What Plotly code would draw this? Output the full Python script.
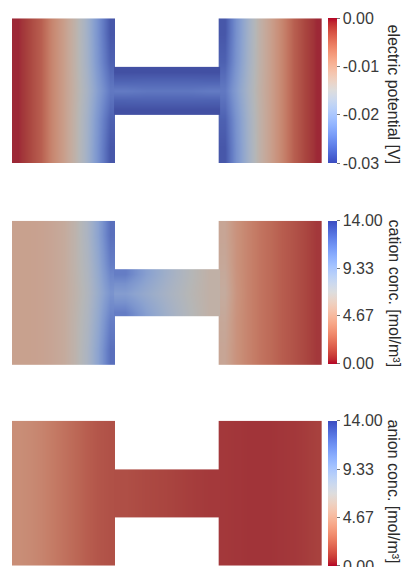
import numpy as np
import plotly.graph_objects as go

# ---------------- data ----------------
# Field samples: rows go bottom -> top, columns left -> right.
# Left block / right block: 5 rows x 9 columns; bridge: 5 rows x 5 columns.

potential_left = [
    [-0.0005, -0.002, -0.004, -0.0075, -0.0105, -0.0137, -0.0180, -0.0232, -0.0292],
    [-0.0005, -0.002, -0.004, -0.0075, -0.0105, -0.0137, -0.0178, -0.0228, -0.0282],
    [-0.0005, -0.002, -0.004, -0.0075, -0.0105, -0.0135, -0.0172, -0.0215, -0.0258],
    [-0.0005, -0.002, -0.004, -0.0075, -0.0105, -0.0137, -0.0178, -0.0228, -0.0282],
    [-0.0005, -0.002, -0.004, -0.0075, -0.0105, -0.0137, -0.0180, -0.0232, -0.0292],
]
potential_bridge = [
    [-0.0298, -0.0298, -0.0298, -0.0298, -0.0298],
    [-0.0280, -0.0279, -0.0279, -0.0279, -0.0280],
    [-0.0255, -0.0260, -0.0260, -0.0260, -0.0255],
    [-0.0280, -0.0279, -0.0279, -0.0279, -0.0280],
    [-0.0298, -0.0298, -0.0298, -0.0298, -0.0298],
]
potential_right = [
    [-0.0292, -0.0232, -0.0180, -0.0137, -0.0105, -0.0075, -0.004, -0.002, -0.0005],
    [-0.0282, -0.0228, -0.0178, -0.0137, -0.0105, -0.0075, -0.004, -0.002, -0.0005],
    [-0.0258, -0.0215, -0.0172, -0.0135, -0.0105, -0.0075, -0.004, -0.002, -0.0005],
    [-0.0282, -0.0228, -0.0178, -0.0137, -0.0105, -0.0075, -0.004, -0.002, -0.0005],
    [-0.0292, -0.0232, -0.0180, -0.0137, -0.0105, -0.0075, -0.004, -0.002, -0.0005],
]

cation_left = [
    [5.0, 5.0, 5.1, 5.3, 5.7, 6.5, 7.8, 9.7, 12.5],
    [5.0, 5.0, 5.1, 5.3, 5.7, 6.5, 7.6, 9.3, 11.8],
    [5.0, 5.0, 5.1, 5.3, 5.7, 6.4, 7.4, 8.9, 10.6],
    [5.0, 5.0, 5.1, 5.3, 5.7, 6.5, 7.6, 9.3, 11.8],
    [5.0, 5.0, 5.1, 5.3, 5.7, 6.5, 7.8, 9.7, 12.5],
]
cation_bridge = [
    [11.8, 9.8, 8.4, 7.2, 6.2],
    [10.8, 9.4, 8.2, 7.1, 6.2],
    [10.0, 9.0, 8.0, 7.0, 6.2],
    [10.8, 9.4, 8.2, 7.1, 6.2],
    [11.8, 9.8, 8.4, 7.2, 6.2],
]
cation_right = [
    [5.3, 4.2, 3.4, 2.8, 2.3, 1.8, 1.4, 1.0, 0.55],
    [5.5, 4.2, 3.4, 2.8, 2.3, 1.8, 1.4, 1.0, 0.55],
    [5.8, 4.3, 3.4, 2.8, 2.3, 1.8, 1.4, 1.0, 0.55],
    [5.5, 4.2, 3.4, 2.8, 2.3, 1.8, 1.4, 1.0, 0.55],
    [5.3, 4.2, 3.4, 2.8, 2.3, 1.8, 1.4, 1.0, 0.55],
]

anion_left = [
    [3.9, 3.7, 3.4, 3.0, 2.6, 2.2, 1.8, 1.5, 1.3],
    [3.9, 3.7, 3.4, 3.0, 2.6, 2.2, 1.8, 1.5, 1.3],
    [3.9, 3.7, 3.4, 3.0, 2.6, 2.2, 1.8, 1.5, 1.3],
    [3.9, 3.7, 3.4, 3.0, 2.6, 2.2, 1.8, 1.5, 1.3],
    [3.9, 3.7, 3.4, 3.0, 2.6, 2.2, 1.8, 1.5, 1.3],
]
anion_bridge = [
    [1.25, 1.05, 0.9, 0.72, 0.58],
    [1.25, 1.05, 0.9, 0.72, 0.58],
    [1.25, 1.05, 0.9, 0.72, 0.58],
    [1.25, 1.05, 0.9, 0.72, 0.58],
    [1.25, 1.05, 0.9, 0.72, 0.58],
]
anion_right = [
    [0.55, 0.5, 0.45, 0.45, 0.45, 0.5, 0.55, 0.65, 0.8],
    [0.55, 0.5, 0.45, 0.45, 0.45, 0.5, 0.55, 0.65, 0.8],
    [0.55, 0.5, 0.45, 0.45, 0.45, 0.5, 0.55, 0.65, 0.8],
    [0.55, 0.5, 0.45, 0.45, 0.45, 0.5, 0.55, 0.65, 0.8],
    [0.55, 0.5, 0.45, 0.45, 0.45, 0.5, 0.55, 0.65, 0.8],
]

titles = ["electric potential [V]", "cation conc. [mol/m³]", "anion conc. [mol/m³]"]
ranges = [(-0.03, 0.0), (0.0, 14.0), (0.0, 14.0)]
tick_vals = [[0.0, -0.01, -0.02, -0.03], [14.0, 9.33, 4.67, 0.0], [14.0, 9.33, 4.67, 0.0]]
tick_text = [["0.00", "-0.01", "-0.02", "-0.03"],
             ["14.00", "9.33", "4.67", "0.00"],
             ["14.00", "9.33", "4.67", "0.00"]]

fields = [
    (potential_left, potential_bridge, potential_right),
    (cation_left, cation_bridge, cation_right),
    (anion_left, anion_bridge, anion_right),
]

# ---------------- colours ----------------
MORELAND = [
    (59, 76, 192), (68, 90, 204), (77, 104, 215), (87, 117, 225), (98, 130, 234),
    (108, 142, 241), (119, 154, 247), (130, 165, 251), (141, 176, 254), (152, 185, 255),
    (163, 194, 255), (174, 201, 253), (184, 208, 249), (194, 213, 244), (204, 217, 238),
    (213, 219, 230), (221, 221, 221), (229, 216, 209), (236, 211, 197), (241, 204, 185),
    (245, 196, 173), (247, 187, 160), (247, 177, 148), (247, 166, 135), (244, 154, 123),
    (241, 141, 111), (236, 127, 99), (229, 112, 88), (222, 96, 77), (213, 80, 66),
    (203, 62, 56), (192, 40, 47), (180, 4, 38),
]


def make_scale(reverse=False, k=1.0, off=0.0):
    n = len(MORELAND)
    cols = MORELAND[::-1] if reverse else MORELAND
    out = []
    for i, (r, g, b) in enumerate(cols):
        rr, gg, bb = [int(min(255, round(c * k + off))) for c in (r, g, b)]
        out.append([i / (n - 1), f"rgb({rr},{gg},{bb})"])
    return out


# ---------------- geometry ----------------
W, H = 403, 567
H_LEFT, H_RIGHT = 12, 322
panel_px = [(18.3, 163.0), (220.8, 365.0), (420.7, 565.8)]
bar_px = [(18.3, 163.0), (220.8, 363.3), (420.7, 566.0)]
title_top_px = [22, 217, 417]
BLOCK_H = 1.4
BRIDGE_Y0, BRIDGE_Y1 = 0.47, 0.93
BRIDGE_OVERLAP = 0.012  # bridge image slightly overlaps the blocks to hide seams
FONT = "Liberation Sans"


def centers(a, b, n):
    step = (b - a) / n
    return [a + (i + 0.5) * step for i in range(n)]


fig = go.Figure()
layout = {}
for p in range(3):
    sfx = "" if p == 0 else str(p + 1)
    xa, ya = "x" + sfx, "y" + sfx
    lo, hi = ranges[p]
    rev = p > 0
    left, bridge, right = fields[p]
    ca = "coloraxis" + ("" if p == 0 else str(p + 1))
    cb = "coloraxis" + str(p + 4)

    fig.add_trace(go.Heatmap(z=left, x=centers(0, 1, len(left[0])),
                             y=centers(0, BLOCK_H, len(left)),
                             coloraxis=ca, zsmooth="best", xaxis=xa, yaxis=ya,
                             hoverinfo="skip"))
    fig.add_trace(go.Heatmap(z=right, x=centers(2, 3, len(right[0])),
                             y=centers(0, BLOCK_H, len(right)),
                             coloraxis=ca, zsmooth="best", xaxis=xa, yaxis=ya,
                             hoverinfo="skip"))
    fig.add_trace(go.Heatmap(z=bridge,
                             x=centers(1 - BRIDGE_OVERLAP, 2 + BRIDGE_OVERLAP, len(bridge[0])),
                             y=centers(BRIDGE_Y0, BRIDGE_Y1, len(bridge)),
                             coloraxis=ca, zsmooth="best", xaxis=xa, yaxis=ya,
                             hoverinfo="skip"))
    # off-range trace that only carries the (bright) colour bar
    fig.add_trace(go.Heatmap(z=[[lo, hi]], x=[10, 11], y=[10],
                             coloraxis=cb, xaxis=xa, yaxis=ya, hoverinfo="skip"))

    t0, t1 = panel_px[p]
    layout["xaxis" + sfx] = dict(domain=[H_LEFT / W, H_RIGHT / W], range=[0, 3],
                                 visible=False, anchor=ya, fixedrange=True)
    layout["yaxis" + sfx] = dict(domain=[1 - t1 / H, 1 - t0 / H], range=[0, BLOCK_H],
                                 visible=False, anchor=xa, fixedrange=True)
    layout[ca] = dict(cmin=lo, cmax=hi, showscale=False,
                      colorscale=make_scale(rev, 0.72, 23))
    b0, b1 = bar_px[p]
    layout[cb] = dict(
        cmin=lo, cmax=hi, colorscale=make_scale(rev), showscale=True,
        colorbar=dict(
            x=328 / W, xanchor="left", xpad=0, ypad=0,
            y=1 - (b0 + b1) / 2 / H, yanchor="middle",
            lenmode="pixels", len=b1 - b0, thicknessmode="pixels", thickness=9,
            outlinewidth=0, ticks="outside", ticklen=3, tickcolor="#777",
            tickvals=tick_vals[p], ticktext=tick_text[p],
            tickfont=dict(family=FONT, size=16, color="#3a3a3a"),
        ),
    )

annotations = []
for p in range(3):
    annotations.append(dict(
        text=titles[p], textangle=90, xref="paper", yref="paper",
        x=383 / W, xanchor="left", y=1 - title_top_px[p] / H, yanchor="top",
        showarrow=False, font=dict(family=FONT, size=16, color="#2a2a2a"),
    ))
# bottom tick label of the last colour bar runs off the page, as in the reference
annotations.append(dict(
    text=tick_text[2][-1], xref="paper", yref="paper",
    x=341 / W, xanchor="left", y=1 - bar_px[2][1] / H, yanchor="middle",
    showarrow=False, font=dict(family=FONT, size=16, color="#3a3a3a"),
))

fig.update_layout(
    width=W, height=H, margin=dict(l=0, r=0, t=0, b=0),
    paper_bgcolor="white", plot_bgcolor="white", showlegend=False,
    annotations=annotations, **layout,
)

fig.write_html("out.html")
